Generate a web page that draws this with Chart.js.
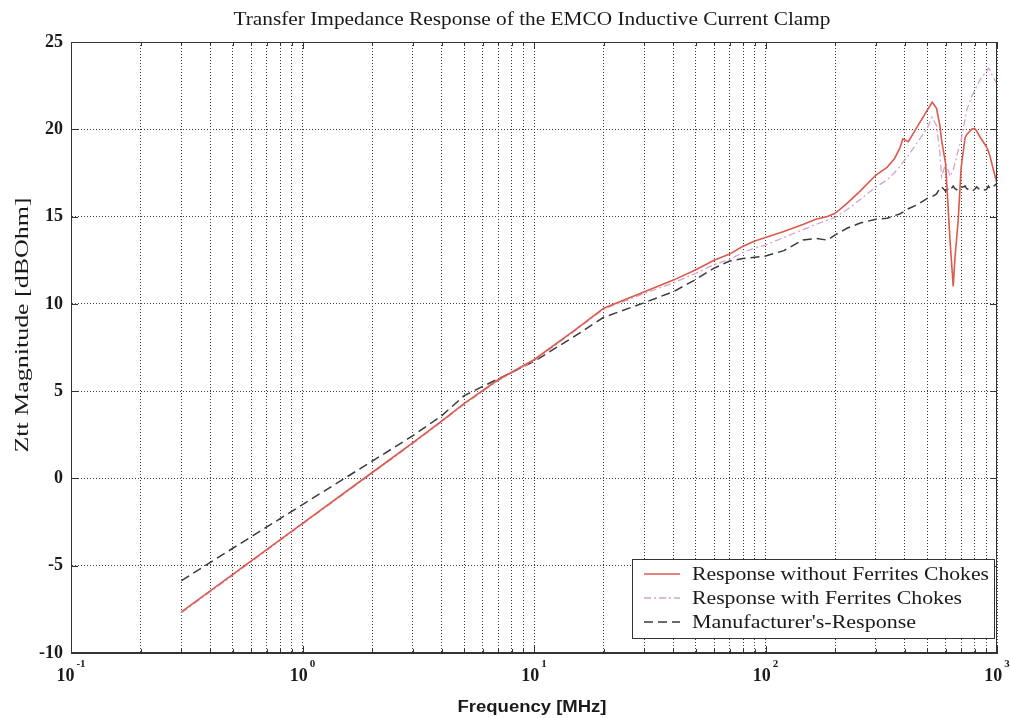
<!DOCTYPE html>
<html>
<head>
<meta charset="utf-8">
<script src="https://cdn.jsdelivr.net/npm/chart.js@4.4.0/dist/chart.umd.min.js"></script>
<style>
  html, body { margin: 0; padding: 0; background: #fff; }
</style>
</head>
<body>
<canvas id="myChart" width="1010" height="718"></canvas>
<script>
// frequency points in MHz (shared by all three traces)
const freq = [0.3, 0.5, 1, 2, 3, 4, 5, 7, 10, 15,
  20, 30, 40, 50, 60, 70, 80, 90, 100, 120,
  145, 165, 185, 200, 225, 255, 300, 335, 360, 380,
  392, 414, 450, 500, 525, 548, 567, 576, 600, 617,
  627, 647, 658, 680, 700, 728, 740, 778, 800, 817,
  850, 900, 918, 933, 960, 1000];

// Ztt magnitude in dBOhm
const zttNoFerrite = [-7.65, -5.5, -2.58, 0.34, 2.05, 3.3, 4.3, 5.65, 6.8, 8.5,
  9.75, 10.7, 11.36, 11.95, 12.5, 12.85, 13.3, 13.6, 13.8, 14.14,
  14.55, 14.85, 15.0, 15.19, 15.76, 16.43, 17.38, 17.82, 18.3, 18.9,
  19.45, 19.29, 20.1, 21.1, 21.55, 21.2, 20.2, 19.4, 18.0, 15.2,
  13.6, 11.0, 12.6, 14.8, 17.8, 19.5, 19.7, 20.0, 20.05, 19.9,
  19.5, 19.0, 18.75, 18.45, 17.8, 16.9];

const zttWithFerrite = [-7.7, -5.55, -2.62, 0.3, 2.0, 3.25, 4.25, 5.6, 6.75, 8.45,
  9.7, 10.6, 11.2, 11.75, 12.25, 12.55, 12.95, 13.2, 13.37, 13.8,
  14.25, 14.55, 14.8, 14.95, 15.4, 15.95, 16.7, 17.1, 17.5, 17.86,
  18.1, 18.5, 19.2, 20.06, 20.69, 20.2, 18.6, 17.3, 18.0, 17.6,
  17.3, 17.7, 18.05, 18.8, 19.4, 20.6, 21.1, 21.9, 22.2, 22.45,
  22.9, 23.3, 23.49, 23.4, 23.0, 22.63];

const zttManufacturer = [-5.85, -4.0, -1.5, 0.99, 2.45, 3.6, 4.75, 5.7, 6.7, 8.15,
  9.23, 10.07, 10.7, 11.4, 12.05, 12.45, 12.6, 12.67, 12.74, 13.05,
  13.66, 13.75, 13.65, 13.95, 14.33, 14.62, 14.85, 14.9, 15.05, 15.15,
  15.25, 15.45, 15.66, 16.04, 16.15, 16.3, 16.62, 16.7, 16.45, 16.6,
  16.5, 16.75, 16.6, 16.5, 16.65, 16.75, 16.6, 16.45, 16.55, 16.7,
  16.5, 16.55, 16.75, 16.6, 16.7, 16.9];

const seriesLabels = ['Response without Ferrites Chokes', 'Response with Ferrites Chokes', "Manufacturer's-Response"];
const yTicks = [-10, -5, 0, 5, 10, 15, 20, 25];
const xDecades = [0.1, 1, 10, 100, 1000];
const xExponents = ['-1', '0', '1', '2', '3'];

const titleText = 'Transfer Impedance Response of the EMCO Inductive Current Clamp';
const xTitle = 'Frequency [MHz]';
const yTitle = 'Ztt Magnitude [dBOhm]';

const SERIF = '"Liberation Serif", "Times New Roman", serif';
const SANS = '"Liberation Sans", Arial, sans-serif';

// all 1..9 x 10^k positions for the log grid
const xGridTicks = [];
xDecades.forEach((d, i) => {
  if (i === xDecades.length - 1) { xGridTicks.push(d); return; }
  for (let m = 1; m <= 9; m++) xGridTicks.push(+(m * d).toPrecision(3));
});

function toPoints(values) {
  return freq.map((f, i) => ({ x: f, y: values[i] }));
}

// draw text squeezed/stretched to a given width
function fitText(ctx, text, x, y, font, width, align) {
  ctx.save();
  ctx.font = font;
  const w = ctx.measureText(text).width;
  const sx = width ? width / w : 1;
  ctx.translate(x, y);
  ctx.scale(sx, 1);
  ctx.textAlign = align || 'center';
  ctx.textBaseline = 'alphabetic';
  ctx.fillText(text, 0, 0);
  ctx.restore();
}

const decorPlugin = {
  id: 'decor',
  afterDraw: (chart) => {
    const ctx = chart.ctx;
    const a = chart.chartArea;
    const xs = chart.scales.x;
    const ys = chart.scales.y;

    ctx.save();
    // axes box
    ctx.strokeStyle = '#333';
    ctx.lineWidth = 1;
    ctx.strokeRect(Math.round(a.left) + 0.5, Math.round(a.top) + 0.5,
      Math.round(a.right - a.left) - 1, Math.round(a.bottom - a.top) - 1);

    // small inward tick marks
    ctx.beginPath();
    xGridTicks.forEach(v => {
      const px = Math.round(xs.getPixelForValue(v)) + 0.5;
      const len = xDecades.includes(v) ? 7 : 4;
      ctx.moveTo(px, a.bottom); ctx.lineTo(px, a.bottom - len);
      ctx.moveTo(px, a.top); ctx.lineTo(px, a.top + len);
    });
    yTicks.forEach(v => {
      const py = Math.round(ys.getPixelForValue(v)) + 0.5;
      ctx.moveTo(a.left, py); ctx.lineTo(a.left + 7, py);
      ctx.moveTo(a.right, py); ctx.lineTo(a.right - 7, py);
    });
    ctx.stroke();

    ctx.fillStyle = '#1a1a1a';
    // title
    fitText(ctx, titleText, 532, 25, '19px ' + SERIF, 597);

    // x tick labels 10^n
    xDecades.forEach((v, i) => {
      const px = xs.getPixelForValue(v);
      ctx.font = 'bold 18px ' + SERIF;
      const wb = ctx.measureText('10').width;
      ctx.font = 'bold 11px ' + SERIF;
      const we = ctx.measureText(xExponents[i]).width;
      const start = px - (wb + we + 2) / 2;
      ctx.textAlign = 'left';
      ctx.font = 'bold 18px ' + SERIF;
      ctx.fillText('10', start, 681);
      ctx.font = 'bold 11px ' + SERIF;
      ctx.fillText(xExponents[i], start + wb + 2, 667);
    });

    // axis titles
    fitText(ctx, xTitle, 532, 712, 'bold 16px ' + SANS, 149);
    ctx.save();
    ctx.translate(28, 325);
    ctx.rotate(-Math.PI / 2);
    fitText(ctx, yTitle, 0, 0, '19px ' + SERIF, 255);
    ctx.restore();

    // legend
    const lx = 632.5, ly = 559.5, lw = 362, lh = 79;
    ctx.fillStyle = '#fff';
    ctx.fillRect(lx, ly, lw, lh);
    ctx.strokeStyle = '#333';
    ctx.strokeRect(lx, ly, lw, lh);
    const rows = [574, 598, 622];
    const widths = [297, 270, 224];
    chart.data.datasets.forEach((ds, i) => {
      ctx.save();
      ctx.strokeStyle = ds.borderColor;
      ctx.lineWidth = ds.borderWidth;
      ctx.setLineDash(ds.borderDash || []);
      ctx.beginPath();
      ctx.moveTo(644, rows[i]);
      ctx.lineTo(680, rows[i]);
      ctx.stroke();
      ctx.restore();
      ctx.fillStyle = '#1a1a1a';
      fitText(ctx, ds.label, 692, rows[i] + 6, '19px ' + SERIF, widths[i], 'left');
    });
    ctx.restore();
  }
};

const ctx = document.getElementById('myChart').getContext('2d');

const myChart = new Chart(ctx, {
  type: 'line',
  data: {
    datasets: [
      {
        label: seriesLabels[0],
        data: toPoints(zttNoFerrite),
        borderColor: '#dc5a4c',
        borderWidth: 1.6
      },
      {
        label: seriesLabels[1],
        data: toPoints(zttWithFerrite),
        borderColor: '#d8a2cc',
        borderWidth: 1.3,
        borderDash: [7, 3, 2, 3]
      },
      {
        label: seriesLabels[2],
        data: toPoints(zttManufacturer),
        borderColor: '#3a3a3a',
        borderWidth: 1.5,
        borderDash: [9, 5]
      }
    ]
  },
  options: {
    responsive: false,
    animation: false,
    devicePixelRatio: 1,
    layout: { padding: { left: 0, top: 42, right: 13, bottom: 0 } },
    elements: {
      point: { radius: 0, hoverRadius: 0 },
      line: { tension: 0, fill: false }
    },
    plugins: {
      legend: { display: false },
      title: { display: false },
      tooltip: { enabled: false }
    },
    scales: {
      x: {
        type: 'logarithmic',
        min: 0.1,
        max: 1000,
        afterBuildTicks: (scale) => {
          scale.ticks = xGridTicks.map(v => ({ value: v }));
        },
        afterFit: (scale) => { scale.height = 65; },
        ticks: { display: false },
        grid: { color: '#3c3c3c', lineWidth: 1, drawTicks: false },
        border: { display: true, color: '#333', width: 1, dash: [1, 2] }
      },
      y: {
        min: -10,
        max: 25,
        afterBuildTicks: (scale) => {
          scale.ticks = yTicks.map(v => ({ value: v }));
        },
        afterFit: (scale) => { scale.width = 71; },
        ticks: {
          padding: 8,
          color: '#1a1a1a',
          font: { family: SERIF, size: 18, weight: 'bold' }
        },
        grid: { color: '#3c3c3c', lineWidth: 1, drawTicks: false },
        border: { display: true, color: '#333', width: 1, dash: [1, 2] }
      }
    }
  },
  plugins: [decorPlugin]
});
</script>
</body>
</html>
